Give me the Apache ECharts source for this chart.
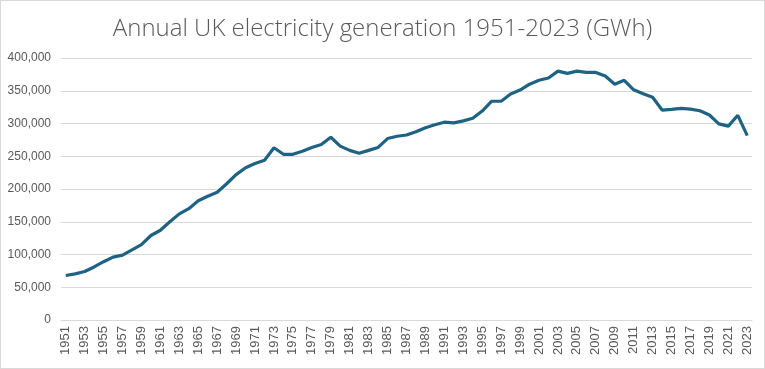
<!DOCTYPE html>
<html><head><meta charset="utf-8">
<script src="https://cdn.jsdelivr.net/npm/echarts@6/dist/echarts.min.js"></script>
<style>html,body{margin:0;padding:0;background:#fff}#c{width:763px;height:367px;border:1px solid #d9d9d9}</style>
</head><body><div id="c"></div>
<script>
const years = [];
for (let y = 1951; y <= 2023; y++) years.push(String(y));
const generation = [
 68000, 70500, 74000, 81000, 89000, 96000, 99000, 107000, 115000, 129000,
 137000, 150000, 162000, 170000, 182000, 189000, 195000, 208000, 222000, 232500,
 239000, 244000, 263000, 253000, 253000, 257500, 263500, 268000, 279000, 265500,
 259000, 254500, 259000, 263500, 277000, 280500, 282500, 287500, 293500, 298000,
 302000, 301000, 304000, 308000, 319000, 334000, 334000, 345000, 351000, 360000,
 366000, 369500, 380000, 376500, 380000, 378000, 378000, 372500, 360000, 366000,
 351500, 345500, 340000, 320500, 321500, 323000, 322000, 319500, 313000, 299500,
 296000, 312500, 281500
];
const chart = echarts.init(document.getElementById('c'));
chart.setOption({
  animation: false,
  title: {text: 'Annual UK electricity generation 1951-2023 (GWh)', left: 'center', top: 11,
    textStyle: {fontFamily: 'Open Sans', fontWeight: 300, fontSize: 24, color: '#595959'}},
  grid: {left: 60, right: 12, top: 57, bottom: 48},
  xAxis: {type: 'category', data: years, boundaryGap: true,
    axisLine: {lineStyle: {color: '#d9d9d9'}}, axisTick: {show: false},
    axisLabel: {interval: 1, rotate: 90, color: '#595959', fontFamily: 'Liberation Sans', fontSize: 13, margin: 6}},
  yAxis: {type: 'value', min: 0, max: 400000, interval: 50000,
    axisLine: {show: false}, axisTick: {show: false},
    splitLine: {lineStyle: {color: '#d9d9d9'}},
    axisLabel: {color: '#595959', fontFamily: 'Liberation Sans', fontSize: 12, margin: 10,
      formatter: v => v.toLocaleString('en-US')}},
  series: [{type: 'line', data: generation, symbol: 'none',
    lineStyle: {color: '#1f6384', width: 3.2}, itemStyle: {color: '#1f6384'}}]
});
</script></body></html>
